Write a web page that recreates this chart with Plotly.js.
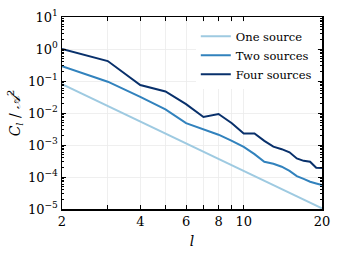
<!DOCTYPE html>
<html><head><meta charset="utf-8">
<script src="https://cdn.plot.ly/plotly-3.0.1.min.js"></script>
<style>html,body{margin:0;padding:0;background:#fff}#c{width:339px;height:259px}</style>
</head><body><div id="c"></div>
<script>
const ells = [2,3,4,5,6,7,8,9,10,11,12,13,14,15,16,17,18,19,20];
const oneSource = [0.08,0.0165,0.0054,0.00224,0.0011,0.00061,0.00036,0.000226,0.00015,0.000103,7.4e-5,5.4e-5,4.1e-5,3.1e-5,2.4e-5,1.9e-5,1.5e-5,1.23e-5,1.05e-5];
const twoSources = [0.29,0.095,0.032,0.013,0.0048,0.0031,0.0021,0.00135,0.00087,0.00052,0.0003,0.00026,0.00021,0.000155,0.000107,0.000087,0.000071,0.000063,0.000056];
const fourSources = [1.0,0.42,0.075,0.047,0.019,0.0075,0.0093,0.0048,0.0023,0.0023,0.00135,0.00089,0.00074,0.00059,0.00038,0.00032,0.0003,0.000194,0.00019];
const names = ['One source','Two sources','Four sources'];
const colors = ['#9ecae1','#3182bd','#08306b'];
const xTickVals = [2,3,4,5,6,7,8,9,10,20];
const xTickText = ['2','','4','','6','','8','','10','20'];
const yTickVals = [1e-5,1e-4,1e-3,1e-2,1e-1,1,10];
const yTickText = ['10<sup>−5</sup>','10<sup>−4</sup>','10<sup>−3</sup>','10<sup>−2</sup>','10<sup>−1</sup>','10<sup>0</sup>','10<sup>1</sup>'];
const yMinor = [];
for (let e=-5; e<1; e++) for (let m=2; m<=9; m++) yMinor.push(m*Math.pow(10,e));

const series = [oneSource, twoSources, fourSources];
const data = series.map((s,i)=>({x:ells,y:s,type:'scatter',mode:'lines',name:names[i],line:{color:colors[i],width:2}}));
data.push({x:[2],y:[1],xaxis:'x',yaxis:'y2',mode:'markers',marker:{opacity:0},showlegend:false,hoverinfo:'skip'});

const fam = 'DejaVu Serif';
const font = {family:fam, size:12, color:'#000'};
const layout = {
  width:339, height:259,
  margin:{l:62,r:17,t:17,b:50},
  paper_bgcolor:'#fff', plot_bgcolor:'#fff',
  font:font,
  showlegend:true,
  legend:{x:0.98,y:0.975,xanchor:'right',yanchor:'top',bgcolor:'#fff',borderwidth:0,font:{family:fam,size:11.5,color:'#000'},tracegroupgap:0},
  xaxis:{type:'log',range:[Math.log10(2),Math.log10(20)],tickvals:xTickVals,ticktext:xTickText,
    ticks:'inside',ticklen:4,tickcolor:'#000',showline:true,linecolor:'#000',linewidth:1.5,mirror:'ticks',
    showgrid:true,gridcolor:'#ebebeb',gridwidth:0.8,zeroline:false,tickfont:{family:fam,size:13},
    title:{text:'<i>l</i>',font:{family:fam,size:14},standoff:8}},
  yaxis:{type:'log',range:[-5,1],tickvals:yTickVals,ticktext:yTickText,
    ticks:'inside',ticklen:4,tickcolor:'#000',showline:true,linecolor:'#000',linewidth:1.5,mirror:'ticks',
    showgrid:true,gridcolor:'#ebebeb',gridwidth:0.8,zeroline:false,tickfont:{family:fam,size:13},
    title:{text:'<i>C<sub>l</sub></i> / <i>𝒜</i><sup>2</sup>',font:{family:fam,size:14},standoff:4}},
  yaxis2:{type:'log',range:[-5,1],overlaying:'y',tickvals:yMinor,ticktext:yMinor.map(()=>''),
    ticks:'inside',ticklen:2,tickcolor:'#000',mirror:'ticks',showline:false,showgrid:false,zeroline:false,side:'left'}
};
Plotly.newPlot('c',data,layout,{displayModeBar:false,staticPlot:true});
</script></body></html>
